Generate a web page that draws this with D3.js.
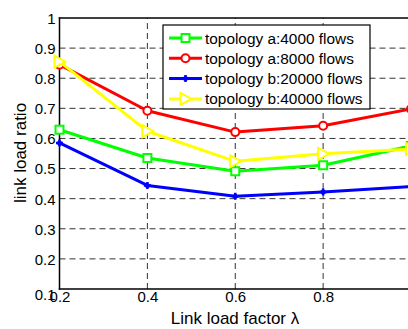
<!DOCTYPE html>
<html><head><meta charset="utf-8">
<script src="https://cdn.jsdelivr.net/npm/d3@7"></script>
<style>body{margin:0;background:#fff;overflow:hidden}svg{display:block}</style>
</head><body>
<script>
const xValues = [0.2, 0.4, 0.6, 0.8, 1.0];
const seriesNames = ["topology a:4000 flows","topology a:8000 flows","topology b:20000 flows","topology b:40000 flows"];
const seriesColors = ["#00ff00","#ff0000","#0000ff","#ffff00"];
const seriesMarkers = ["square","circle","star","triangle"];
const topoA4000 = [0.629, 0.535, 0.491, 0.511, 0.575];
const topoA8000 = [0.845, 0.692, 0.621, 0.642, 0.698];
const topoB20000 = [0.585, 0.444, 0.408, 0.422, 0.440];
const topoB40000 = [0.855, 0.624, 0.524, 0.549, 0.565];
const seriesValues = [topoA4000, topoA8000, topoB20000, topoB40000];
const yTicks = [0.1,0.2,0.3,0.4,0.5,0.6,0.7,0.8,0.9,1];
const xTicks = [0.2,0.4,0.6,0.8,1.0];
// the label "1" at x = 1.0 falls outside the cropped picture, so only these are shown
const xTickLabels = ["0.2","0.4","0.6","0.8"];

const W = 408, H = 329;
const svg = d3.select("body").append("svg").attr("width", W).attr("height", H);
const x = d3.scaleLinear().domain([0.2, 1.0]).range([59.5, 411]);
const y = d3.scaleLinear().domain([0.1, 1.0]).range([289, 18]);
const font = "Arial, 'Liberation Sans', sans-serif";

// grid
const g = svg.append("g");
g.selectAll(".gx").data(xTicks.slice(1)).join("line")
  .attr("x1", d => x(d)).attr("x2", d => x(d)).attr("y1", y(0.1)).attr("y2", y(1))
  .attr("stroke", "#333").attr("stroke-width", 1).attr("stroke-dasharray", "6,4");
g.selectAll(".gy").data(yTicks.slice(1, -1)).join("line")
  .attr("x1", x(0.2)).attr("x2", x(1)).attr("y1", d => y(d)).attr("y2", d => y(d))
  .attr("stroke", "#333").attr("stroke-width", 1).attr("stroke-dasharray", "6,4");

// axes
const xAxis = d3.axisBottom(x).tickValues(xTicks.slice(0, xTickLabels.length)).tickFormat((d, i) => xTickLabels[i]).tickSize(0).tickPadding(5);
const yAxis = d3.axisLeft(y).tickValues(yTicks).tickFormat(d => d === 1 ? "1" : d3.format(".1f")(d)).tickSize(0).tickPadding(4);
const xa = svg.append("g").attr("transform", `translate(0,${y(0.1)})`).call(xAxis);
const ya = svg.append("g").attr("transform", `translate(${x(0.2)},0)`).call(yAxis);
[xa, ya].forEach(a => {
  a.select(".domain").remove();
  a.selectAll("text").attr("font-family", font).attr("font-size", 15).attr("fill", "#000");
});
xa.selectAll("text").attr("dy", "0.55em");
ya.selectAll("text").attr("dy", "0.36em");
ya.selectAll(".tick").filter(d => d === 0.1).select("text").attr("dy", "0.7em");
// box
svg.append("line").attr("x1", x(0.2)).attr("x2", x(0.2)).attr("y1", y(0.1)+0.75).attr("y2", y(1)-0.75).attr("stroke","#000").attr("stroke-width",1.5);
svg.append("line").attr("x1", x(0.2)-0.75).attr("x2", x(1)).attr("y1", y(0.1)).attr("y2", y(0.1)).attr("stroke","#000").attr("stroke-width",1.5);
svg.append("line").attr("x1", x(0.2)-0.75).attr("x2", x(1)).attr("y1", y(1)).attr("y2", y(1)).attr("stroke","#000").attr("stroke-width",1.5);

// marker drawer
function drawMarker(sel, type, color, cx, cy) {
  if (type === "square") {
    sel.append("rect").attr("x", cx-4).attr("y", cy-4).attr("width", 8).attr("height", 8)
      .attr("fill", "#fff").attr("stroke", color).attr("stroke-width", 2);
  } else if (type === "circle") {
    sel.append("circle").attr("cx", cx).attr("cy", cy).attr("r", 4)
      .attr("fill", "#fff").attr("stroke", color).attr("stroke-width", 2);
  } else if (type === "star") {
    sel.append("path").attr("d", `M${cx-3.5},${cy}H${cx+3.5}M${cx},${cy-3.5}V${cy+3.5}`)
      .attr("stroke", color).attr("stroke-width", 2.5);
    sel.append("circle").attr("cx", cx).attr("cy", cy).attr("r", 2.5).attr("fill", color);
  } else if (type === "triangle") {
    sel.append("path").attr("d", `M${cx-5},${cy-6}L${cx+6},${cy}L${cx-5},${cy+6}Z`)
      .attr("fill", "#fff").attr("stroke", color).attr("stroke-width", 2);
  }
}

// lines
const line = d3.line().x((d, i) => x(xValues[i])).y(d => y(d));
seriesValues.forEach((vals, s) => {
  const sg = svg.append("g");
  sg.append("path").datum(vals).attr("d", line).attr("fill", "none")
    .attr("stroke", seriesColors[s]).attr("stroke-width", 3).attr("stroke-linejoin", "round");
  vals.forEach((v, i) => drawMarker(sg, seriesMarkers[s], seriesColors[s], x(xValues[i]), y(v)));
});

// legend
const lg = svg.append("g");
lg.append("rect").attr("x", 163).attr("y", 25).attr("width", 207).attr("height", 84)
  .attr("fill", "#fff").attr("stroke", "#000").attr("stroke-width", 1.2);
seriesNames.forEach((name, s) => {
  const ly = 38 + s * 20.3;
  lg.append("line").attr("x1", 169).attr("x2", 202).attr("y1", ly).attr("y2", ly)
    .attr("stroke", seriesColors[s]).attr("stroke-width", 3);
  drawMarker(lg, seriesMarkers[s], seriesColors[s], 185.5, ly);
  lg.append("text").attr("x", 205).attr("y", ly).attr("dy", "0.36em")
    .attr("font-family", font).attr("font-size", 15.4).attr("fill", "#000").text(name);
});

// axis labels
svg.append("text").attr("x", 235).attr("y", 318).attr("dy", "0.36em").attr("text-anchor", "middle")
  .attr("font-family", font).attr("font-size", 17).attr("fill", "#000").text("Link load factor λ");
svg.append("text").attr("transform", "translate(20,153) rotate(-90)").attr("dy", "0.36em").attr("text-anchor", "middle")
  .attr("font-family", font).attr("font-size", 17).attr("fill", "#000").text("link load ratio");
</script>
</body></html>
